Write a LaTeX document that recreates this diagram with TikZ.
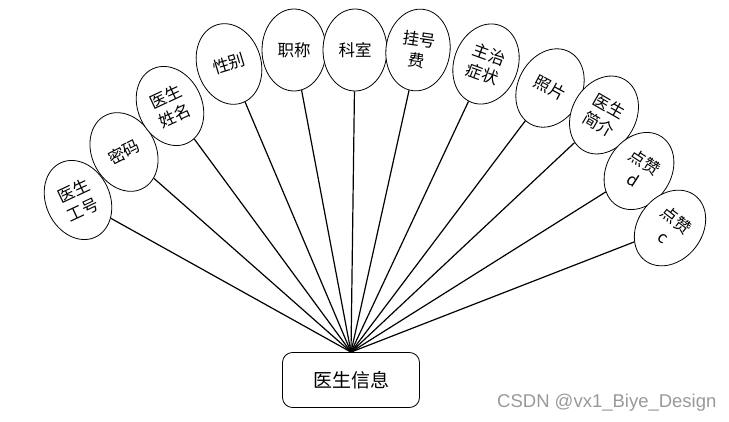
\documentclass[tikz,border=0pt]{standalone}
\usepackage{fontspec}
\usetikzlibrary{shapes.geometric}
\newfontfamily\cjk{Noto Sans CJK SC}
\newfontfamily\wmfont{Liberation Sans}
\tikzset{
  attr/.style={draw, ellipse, line width=0.8pt, fill=white, minimum width=64pt, minimum height=82pt,
    inner sep=0pt, align=center, font=\cjk\fontsize{16.5}{21}\selectfont},
  mainbox/.style={draw, rounded corners=10pt, line width=0.8pt, minimum width=137pt, minimum height=55pt,
    font=\cjk\fontsize{19}{21}\selectfont},
  conn/.style={line width=1.2pt}
}
\begin{document}
\begin{tikzpicture}[x=1pt,y=-1pt]
\useasboundingbox (0,0) rectangle (729,422);
\node[mainbox] (main) at (351,380) {医生信息};
\node[attr, rotate=25] (e1) at (78,200) {医生\\工号};
\node[attr, rotate=27] (e2) at (124,152) {密码};
\node[attr, rotate=25] (e3) at (170,106) {医生\\姓名};
\node[attr, rotate=17] (e4) at (229,64) {性别};
\node[attr] (e5) at (294,50) {职称};
\node[attr] (e6) at (355,50) {科室};
\node[attr, rotate=-8] (e7) at (418,50) {挂号\\费};
\node[attr, rotate=-20] (e8) at (486,64) {主治\\症状};
\node[attr, rotate=-28] (e9) at (550,88) {照片};
\node[attr, rotate=-30] (e10) at (604,115) {医生\\简介};
\node[attr, rotate=-33] (e11) at (639,171) {点赞\\d};
\node[attr, rotate=-38] (e12) at (670,228) {点赞\\c};
\foreach \i in {1,...,12} \draw[conn] (main.north) -- (e\i);
\node[anchor=west, text=black!40, inner sep=0pt, font=\wmfont\fontsize{18.5}{21}\selectfont] (wm) at (497,403) {CSDN @vx1\_Biye\_Design};
\end{tikzpicture}
\end{document}
